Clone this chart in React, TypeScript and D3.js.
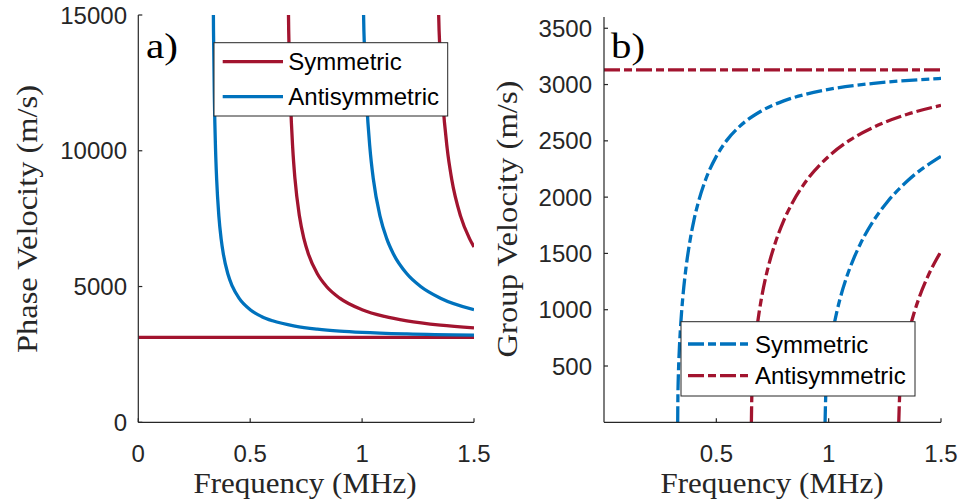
import React from 'react';
import * as d3 from 'd3';

const RED = '#A2142F';
const BLUE = '#0072BD';
const AX = '#262626';

// ---------- Panel a) Phase velocity (MHz, m/s) ----------
const phaseF0 = [0, 1.5];
const phaseV0 = [3130, 3130];
const phaseF1 = [0.333, 0.336, 0.34, 0.345, 0.35, 0.36, 0.37, 0.38, 0.4, 0.42, 0.45, 0.5, 0.55, 0.6, 0.7, 0.8, 0.9, 1.0, 1.2, 1.5];
const phaseV1 = [18128, 14430, 11886, 10095, 8970, 7594, 6764, 6199, 5469, 5011, 4572, 4147, 3899, 3738, 3543, 3432, 3361, 3313, 3254, 3208];
const phaseF2 = [0.666, 0.672, 0.68, 0.69, 0.7, 0.72, 0.74, 0.76, 0.8, 0.84, 0.9, 1.0, 1.1, 1.2, 1.35, 1.5];
const phaseV2 = [18128, 14430, 11886, 10095, 8970, 7594, 6764, 6199, 5469, 5011, 4572, 4147, 3899, 3738, 3581, 3480];
const phaseF3 = [0.999, 1.008, 1.02, 1.035, 1.05, 1.08, 1.11, 1.14, 1.2, 1.26, 1.35, 1.5];
const phaseV3 = [18128, 14430, 11886, 10095, 8970, 7594, 6764, 6199, 5469, 5011, 4572, 4147];
const phaseF4 = [1.332, 1.344, 1.36, 1.38, 1.4, 1.44, 1.48, 1.5];
const phaseV4 = [18128, 14430, 11886, 10095, 8970, 7594, 6764, 6457];

// ---------- Panel b) Group velocity ----------
const groupF0 = [0, 1.5];
const groupV0 = [3130, 3130];
const groupF1 = [0.328, 0.329, 0.33, 0.333, 0.336, 0.34, 0.345, 0.35, 0.36, 0.37, 0.38, 0.4, 0.42, 0.45, 0.5, 0.55, 0.6, 0.7, 0.8, 0.9, 1.0, 1.2, 1.5];
const groupV1 = [0, 244, 344, 540, 679, 824, 970, 1092, 1290, 1448, 1580, 1792, 1955, 2143, 2362, 2513, 2621, 2765, 2855, 2915, 2957, 3011, 3054];
const groupF2 = [0.656, 0.658, 0.66, 0.666, 0.672, 0.68, 0.69, 0.7, 0.72, 0.74, 0.76, 0.8, 0.84, 0.9, 1.0, 1.1, 1.2, 1.35, 1.5];
const groupV2 = [0, 244, 344, 540, 679, 824, 970, 1092, 1290, 1448, 1580, 1792, 1955, 2143, 2362, 2513, 2621, 2736, 2815];
const groupF3 = [0.984, 0.987, 0.99, 0.999, 1.008, 1.02, 1.035, 1.05, 1.08, 1.11, 1.14, 1.2, 1.26, 1.35, 1.5];
const groupV3 = [0, 244, 344, 540, 679, 824, 970, 1092, 1290, 1448, 1580, 1792, 1955, 2143, 2362];
const groupF4 = [1.312, 1.316, 1.32, 1.332, 1.344, 1.36, 1.38, 1.4, 1.44, 1.48, 1.5];
const groupV4 = [0, 244, 344, 540, 679, 824, 970, 1092, 1290, 1448, 1517];

const leftXTicks = [0, 0.5, 1, 1.5];
const leftXTickLabels = ['0', '0.5', '1', '1.5'];
const leftYTicks = [0, 5000, 10000, 15000];
const leftYTickLabels = ['0', '5000', '10000', '15000'];
const rightXTicks = [0.5, 1, 1.5];
const rightXTickLabels = ['0.5', '1', '1.5'];
const rightYTicks = [500, 1000, 1500, 2000, 2500, 3000, 3500];
const rightYTickLabels = ['500', '1000', '1500', '2000', '2500', '3000', '3500'];

const legendLabels = ['Symmetric', 'Antisymmetric'];

type Series = { f: number[]; v: number[]; color: string };

const phaseSeries: Series[] = [
  { f: phaseF0, v: phaseV0, color: RED },
  { f: phaseF2, v: phaseV2, color: RED },
  { f: phaseF4, v: phaseV4, color: RED },
  { f: phaseF1, v: phaseV1, color: BLUE },
  { f: phaseF3, v: phaseV3, color: BLUE },
];
const groupSeries: Series[] = [
  { f: groupF1, v: groupV1, color: BLUE },
  { f: groupF3, v: groupV3, color: BLUE },
  { f: groupF0, v: groupV0, color: RED },
  { f: groupF2, v: groupV2, color: RED },
  { f: groupF4, v: groupV4, color: RED },
];

const SANS = '"Liberation Sans", Arial, Helvetica, sans-serif';
const SERIF = '"Liberation Serif", "DejaVu Serif", serif';
const DASH = '16,4,8,4';
const LW = 3.3;

function Axes(props: {
  x: d3.ScaleLinear<number, number>;
  y: d3.ScaleLinear<number, number>;
  xTicks: number[]; xLabels: string[];
  yTicks: number[]; yLabels: string[];
  yLabelEnd: number;
}) {
  const { x, y, xTicks, xLabels, yTicks, yLabels, yLabelEnd } = props;
  const [x0, x1] = x.range();
  const [y0, y1] = y.range();
  return (
    <g>
      <line x1={x0} x2={x1} y1={y0} y2={y0} stroke={AX} strokeWidth={1.2} />
      <line x1={x0} x2={x0} y1={y0} y2={y1} stroke={AX} strokeWidth={1.2} />
      {xTicks.map((t, i) => (
        <g key={'x' + i}>
          <line x1={x(t)} x2={x(t)} y1={y0} y2={y0 - 4} stroke={AX} strokeWidth={1.2} />
          <text x={x(t)} y={461.5} textAnchor="middle" fontFamily={SANS} fontSize={24} fill={AX}>{xLabels[i]}</text>
        </g>
      ))}
      {yTicks.map((t, i) => (
        <g key={'y' + i}>
          <line x1={x0} x2={x0 + 4} y1={y(t)} y2={y(t)} stroke={AX} strokeWidth={1.2} />
          <text x={yLabelEnd} y={y(t)} dy="0.36em" textAnchor="end" fontFamily={SANS} fontSize={24} fill={AX}>{yLabels[i]}</text>
        </g>
      ))}
    </g>
  );
}

export default function App() {
  // Panel a
  const xa = d3.scaleLinear().domain([0, 1.5]).range([138.3, 474]);
  const ya = d3.scaleLinear().domain([0, 15000]).range([422.3, 15]);
  // Panel b
  const xb = d3.scaleLinear().domain([0, 1.5]).range([604, 941]);
  const yb = d3.scaleLinear().domain([0, 3600]).range([422.3, 17]);

  const lineA = d3.line<[number, number]>().x(d => xa(d[0])).y(d => ya(d[1])).curve(d3.curveMonotoneX);
  const lineB = d3.line<[number, number]>().x(d => xb(d[0])).y(d => yb(d[1])).curve(d3.curveMonotoneX);
  const pts = (s: Series) => s.f.map((f, i) => [f, s.v[i]] as [number, number]);

  return (
    <svg width={965} height={504} style={{ position: 'absolute', left: 0, top: 0, background: '#fff' }}>
      <defs>
        <clipPath id="clipA"><rect x={138.3} y={15} width={474 - 138.3} height={422.3 - 15} /></clipPath>
        <clipPath id="clipB"><rect x={604} y={17} width={941 - 604} height={422.3 - 17} /></clipPath>
      </defs>
      <rect width={965} height={504} fill="#fff" />

      {/* Panel a */}
      <g clipPath="url(#clipA)">
        {phaseSeries.map((s, i) => (
          <path key={i} d={lineA(pts(s)) || ''} fill="none" stroke={s.color} strokeWidth={LW} />
        ))}
      </g>
      <Axes x={xa} y={ya} xTicks={leftXTicks} xLabels={leftXTickLabels} yTicks={leftYTicks} yLabels={leftYTickLabels} yLabelEnd={127} />
      <text x={146} y={58} fontFamily={SERIF} fontSize={36} fill="#000" textLength={32} lengthAdjust="spacingAndGlyphs">a)</text>
      <g>
        <rect x={214} y={42.7} width={233.7} height={73.3} fill="#fff" stroke={AX} strokeWidth={1} />
        <line x1={222.7} x2={283} y1={61.7} y2={61.7} stroke={RED} strokeWidth={LW} />
        <line x1={222.7} x2={283} y1={96.7} y2={96.7} stroke={BLUE} strokeWidth={LW} />
        <text x={288.3} y={61.7} dy="0.36em" fontFamily={SANS} fontSize={24} fill="#000">{legendLabels[0]}</text>
        <text x={288.3} y={96.7} dy="0.36em" fontFamily={SANS} fontSize={24} fill="#000">{legendLabels[1]}</text>
      </g>
      <text x={305} y={493} textAnchor="middle" fontFamily={SERIF} fontSize={29} fill={AX} textLength={223} lengthAdjust="spacingAndGlyphs">Frequency (MHz)</text>
      <text transform={`translate(37,219) rotate(-90)`} textAnchor="middle" fontFamily={SERIF} fontSize={29} fill={AX} textLength={268} lengthAdjust="spacingAndGlyphs">Phase Velocity (m/s)</text>

      {/* Panel b */}
      <g clipPath="url(#clipB)">
        {groupSeries.map((s, i) => (
          <path key={i} d={lineB(pts(s)) || ''} fill="none" stroke={s.color} strokeWidth={LW} strokeDasharray={DASH} />
        ))}
      </g>
      <Axes x={xb} y={yb} xTicks={rightXTicks} xLabels={rightXTickLabels} yTicks={rightYTicks} yLabels={rightYTickLabels} yLabelEnd={592} />
      <text x={611} y={58} fontFamily={SERIF} fontSize={36} fill="#000" textLength={34} lengthAdjust="spacingAndGlyphs">b)</text>
      <g>
        <rect x={681} y={321.7} width={234} height={74.3} fill="#fff" stroke={AX} strokeWidth={1} />
        <line x1={688} x2={748} y1={344} y2={344} stroke={BLUE} strokeWidth={LW} strokeDasharray={DASH} />
        <line x1={688} x2={748} y1={375.7} y2={375.7} stroke={RED} strokeWidth={LW} strokeDasharray={DASH} />
        <text x={755} y={344} dy="0.36em" fontFamily={SANS} fontSize={24} fill="#000">{legendLabels[0]}</text>
        <text x={755} y={375.7} dy="0.36em" fontFamily={SANS} fontSize={24} fill="#000">{legendLabels[1]}</text>
      </g>
      <text x={772} y={493} textAnchor="middle" fontFamily={SERIF} fontSize={29} fill={AX} textLength={223} lengthAdjust="spacingAndGlyphs">Frequency (MHz)</text>
      <text transform={`translate(517,219) rotate(-90)`} textAnchor="middle" fontFamily={SERIF} fontSize={29} fill={AX} textLength={277} lengthAdjust="spacingAndGlyphs">Group Velocity (m/s)</text>
    </svg>
  );
}
